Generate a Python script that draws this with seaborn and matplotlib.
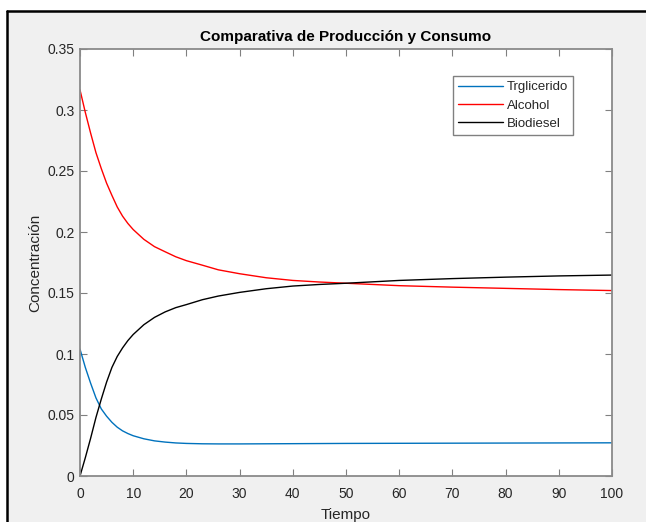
import matplotlib
matplotlib.use("Agg")
import matplotlib.pyplot as plt
from matplotlib.patches import Rectangle
from matplotlib.lines import Line2D
import seaborn as sns
import pandas as pd

# ---- data ----
tiempo = [0, 1, 2, 3, 4, 5, 6, 7, 8, 9, 10, 12, 14, 16, 18, 20, 23, 26, 30,
          35, 40, 45, 50, 60, 70, 80, 90, 100]
trigliceridos = [0.104, 0.089, 0.076, 0.064, 0.055, 0.049, 0.044, 0.040, 0.037,
                 0.0348, 0.033, 0.0305, 0.0288, 0.0278, 0.0271, 0.0267, 0.0264,
                 0.0263, 0.0263, 0.0264, 0.0265, 0.0266, 0.0267, 0.0268, 0.0269,
                 0.0270, 0.0271, 0.0272]
alcohol = [0.3165, 0.298, 0.281, 0.265, 0.252, 0.240, 0.230, 0.2205, 0.213,
           0.207, 0.202, 0.194, 0.188, 0.1838, 0.1797, 0.1765, 0.1728, 0.169,
           0.1658, 0.1625, 0.1603, 0.1590, 0.158, 0.156, 0.1548, 0.1538,
           0.1528, 0.152]
biodiesel = [0.0, 0.015, 0.031, 0.048, 0.063, 0.077, 0.089, 0.098, 0.105,
             0.111, 0.116, 0.124, 0.130, 0.1345, 0.138, 0.1405, 0.1445, 0.1475,
             0.1505, 0.1535, 0.1557, 0.157, 0.158, 0.1603, 0.1618, 0.163,
             0.164, 0.1647]
series_names = ["Trglicerido", "Alcohol", "Biodiesel"]
series_colors = ["#0072BD", "#FF0000", "#000000"]
x_ticks = [0, 10, 20, 30, 40, 50, 60, 70, 80, 90, 100]
y_ticks = [0, 0.05, 0.1, 0.15, 0.2, 0.25, 0.3, 0.35]
y_tick_labels = ["0", "0.05", "0.1", "0.15", "0.2", "0.25", "0.3", "0.35"]

sns.set_theme(style="white")
plt.rcParams["font.family"] = ["Liberation Sans", "DejaVu Sans"]

W, H = 646, 522
fig = plt.figure(figsize=(W / 100, H / 100), dpi=100)
fig.patch.set_facecolor("white")

# screenshot frame: grey window with black top/left edges
fig.patches.append(Rectangle((8 / W, 0), 1 - 8 / W, 1 - 12 / H,
                             transform=fig.transFigure, facecolor="#f0f0f0",
                             edgecolor="none", zorder=-10))
fig.lines.append(Line2D([7 / W, 1], [1 - 11 / H, 1 - 11 / H],
                        transform=fig.transFigure, color="black", lw=1.8,
                        zorder=-5))
fig.lines.append(Line2D([7 / W, 7 / W], [0, 1 - 11 / H],
                        transform=fig.transFigure, color="black", lw=1.8,
                        zorder=-5))

ax = fig.add_axes([80 / W, 1 - 476 / H, (612 - 80) / W, (476 - 49) / H])
ax.set_zorder(1)
ax.set_facecolor("white")

df = pd.DataFrame({"Tiempo": tiempo,
                   series_names[0]: trigliceridos,
                   series_names[1]: alcohol,
                   series_names[2]: biodiesel})
long = df.melt(id_vars="Tiempo", var_name="Serie", value_name="Concentración")
sns.lineplot(data=long, x="Tiempo", y="Concentración", hue="Serie",
             hue_order=series_names, palette=series_colors, linewidth=1.0,
             ax=ax, legend=True)

ax.set_xlim(0, 100)
ax.set_ylim(0, 0.35)
ax.set_xticks(x_ticks)
ax.set_xticklabels([str(v) for v in x_ticks])
ax.set_yticks(y_ticks)
ax.set_yticklabels(y_tick_labels)
ax.tick_params(direction="in", length=5, width=0.8, colors="#808080",
               labelcolor="#262626", labelsize=10, top=True, right=True,
               bottom=True, left=True, pad=4)
ax.tick_params(axis="x", pad=8)
for s in ax.spines.values():
    s.set_color("#8a8a8a")
    s.set_linewidth(1.3)

ax.set_xlabel("Tiempo", fontsize=11, color="#262626", labelpad=5)
ax.set_ylabel("Concentración", fontsize=11, color="#262626", labelpad=4)
ax.set_title("Comparativa de Producción y Consumo", fontsize=11,
             fontweight="bold", color="black", pad=6)

leg = ax.legend(loc="upper right", bbox_to_anchor=(0.927, 0.937),
                borderaxespad=0, fontsize=9.5, frameon=True, fancybox=False,
                framealpha=1, edgecolor="#808080", handlelength=3.4,
                handletextpad=0.3, labelspacing=0.45, borderpad=0.4)
leg.get_frame().set_linewidth(1.0)

fig.savefig("out.png", dpi=100)
